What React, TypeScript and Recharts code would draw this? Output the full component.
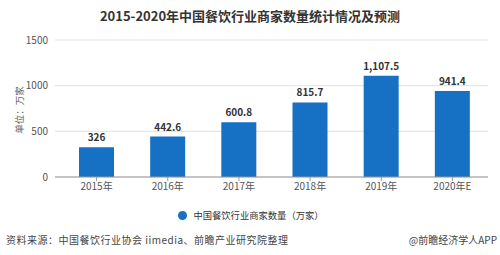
import React from "react";
import { BarChart, Bar, XAxis, YAxis, CartesianGrid, LabelList } from "recharts";

const categories = ["2015年", "2016年", "2017年", "2018年", "2019年", "2020年E"];
const values = [326, 442.6, 600.8, 815.7, 1107.5, 941.4];
const valueLabels = ["326", "442.6", "600.8", "815.7", "1,107.5", "941.4"];
const yTicks = [0, 500, 1000, 1500];

const data = categories.map((c, i) => ({ name: c, value: values[i], label: valueLabels[i] }));

const FONT = "'Noto Sans CJK SC', 'Noto Sans', sans-serif";

export default function App() {
  return (
    <div style={{ position: "fixed", top: 0, left: 0, width: 500, height: 255, background: "#fff", fontFamily: FONT, overflow: "hidden" }}>
      <div style={{ position: "absolute", top: 6, left: 0, width: 500, textAlign: "center", fontSize: 13, fontWeight: 700, color: "#333" }}>
        2015-2020年中国餐饮行业商家数量统计情况及预测
      </div>
      <div style={{ position: "absolute", left: 19, top: 110, width: 0, height: 0 }}>
        <div style={{ position: "absolute", left: 0, top: 0, transform: "translate(-50%, -50%) rotate(-90deg)", fontSize: 9.5, color: "#666", whiteSpace: "nowrap" }}>
          单位：万家
        </div>
      </div>
      <div style={{ position: "absolute", top: 0, left: 0 }}>
        <BarChart width={500} height={200} data={data} margin={{ top: 40, right: 12, bottom: 0, left: 0 }} barSize={35}>
          <CartesianGrid vertical={false} stroke="#e0e0e0" />
          <XAxis dataKey="name" tick={{ fontSize: 10, fill: "#555", fontFamily: FONT }} tickLine={{ stroke: "#999" }} axisLine={{ stroke: "#999" }} tickSize={4} height={23} padding={{ left: 6, right: 0 }} />
          <YAxis domain={[0, 1500]} ticks={yTicks} tick={{ fontSize: 10, fill: "#555", fontFamily: FONT }} axisLine={false} tickLine={false} width={55} tickMargin={1} />
          <Bar dataKey="value" fill="#1670c4" isAnimationActive={false}>
            <LabelList dataKey="label" position="top" offset={6} style={{ fontSize: 10, fontWeight: 700, fill: "#333", fontFamily: FONT }} />
          </Bar>
        </BarChart>
      </div>
      <div style={{ position: "absolute", top: 208, left: 0, width: 500, display: "flex", justifyContent: "center", alignItems: "center", fontSize: 9.3, color: "#333" }}>
        <span style={{ display: "inline-block", width: 9, height: 9, borderRadius: "50%", background: "#1670c4", marginRight: 6, marginLeft: 2 }} />
        <span>中国餐饮行业商家数量（万家）</span>
      </div>
      <div style={{ position: "absolute", top: 232, left: 6, fontSize: 10, letterSpacing: 0.5, color: "#444" }}>
        资料来源：中国餐饮行业协会 iimedia、前瞻产业研究院整理
      </div>
      <div style={{ position: "absolute", top: 232, right: 3, fontSize: 10, color: "#444" }}>
        @前瞻经济学人APP
      </div>
    </div>
  );
}
